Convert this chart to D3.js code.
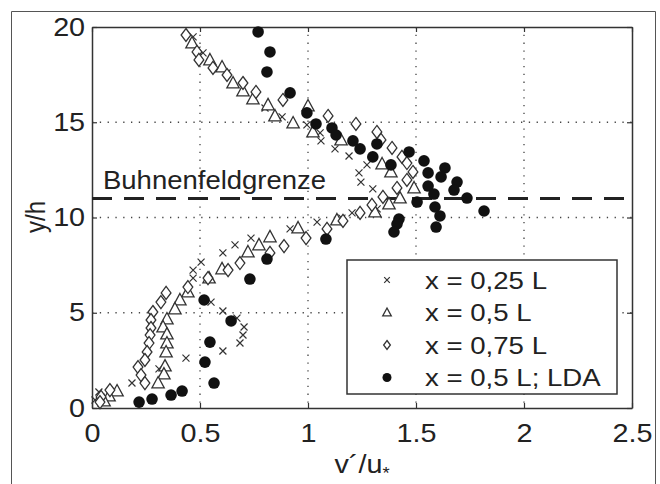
<!DOCTYPE html>
<html lang="de">
<head>
    <meta charset="utf-8">
    <title>Buhnenfeld</title>
    <script src="https://d3js.org/d3.v7.min.js" charset="utf-8"></script>
    <style type="text/css">
        body { margin: 0; background: #fff; }
        .textset { font-family: 'Liberation Sans', Arial, sans-serif; fill: #222; }
    </style>
</head>
<body>
    <script type="text/javascript">

        // x = 0,25 L  (crosses)
        var crossV = [0.468, 0.486, 0.514, 0.625, 0.801, 0.88, 0.995, 1.056, 1.06, 1.125, 1.19, 1.273, 1.236, 1.245, 1.30, 1.32,
            1.204, 1.157, 1.042, 0.917, 0.736, 0.662, 0.606, 0.505, 0.468, 0.468, 0.551, 0.606, 0.671, 0.704, 0.699, 0.685,
            0.606, 0.435, 0.31, 0.185, 0.032, 0.014];
        var crossY = [19.48, 18.79, 18.64, 17.59, 15.75, 15.28, 14.86, 14.44, 14.02, 13.60, 13.23, 12.76, 12.34, 11.86, 11.50, 10.45,
            10.24, 9.97, 9.76, 9.40, 8.92, 8.56, 8.14, 7.66, 7.24, 6.82, 5.56, 5.09, 4.72, 4.25, 3.83, 3.41,
            2.99, 2.62, 2.05, 1.31, 0.84, 0.42];

        // x = 0,5 L  (triangles)
        var triV = [0.463, 0.546, 0.602, 0.653, 0.699, 0.745, 0.815, 0.847, 0.931, 1.0, 1.023, 1.153, 1.343, 1.384, 1.491,
            1.426, 1.375, 1.31, 1.134, 0.954, 0.824, 0.773, 0.722, 0.602, 0.542, 0.444, 0.407, 0.384, 0.347, 0.329, 0.347,
            0.347, 0.343, 0.338, 0.333, 0.306, 0.116, 0.079, 0.056];
        var triY = [19.16, 18.27, 17.90, 17.06, 16.64, 16.22, 15.91, 15.33, 14.96, 15.85, 14.49, 14.07, 12.81, 12.39, 11.55,
            11.02, 10.71, 10.29, 9.87, 9.45, 8.98, 8.56, 8.19, 7.30, 6.82, 6.09, 5.67, 5.20, 4.67, 4.25, 3.88,
            3.41, 2.94, 2.20, 1.78, 1.31, 0.89, 0.63, 0.37];

        // x = 0,75 L  (diamonds)
        var diaV = [0.435, 0.486, 0.495, 0.56, 0.625, 0.699, 0.759, 0.884, 1.093, 1.222, 1.319, 1.338, 1.389, 1.435, 1.458,
            1.486, 1.458, 1.412, 1.347, 1.296, 1.241, 1.162, 1.088, 0.991, 0.889, 0.824, 0.685, 0.63, 0.537, 0.444, 0.343,
            0.319, 0.282, 0.273, 0.273, 0.269, 0.264, 0.255, 0.245, 0.213, 0.227, 0.245, 0.083, 0.042, 0.037];
        var diaY = [19.58, 18.69, 18.27, 17.85, 17.48, 17.06, 16.59, 16.17, 15.33, 14.91, 14.49, 14.07, 13.65, 13.18, 12.86,
            12.39, 11.97, 11.55, 11.08, 10.66, 10.24, 9.82, 9.40, 8.92, 8.50, 8.14, 7.61, 7.24, 6.82, 6.35, 6.04,
            5.56, 5.04, 4.62, 4.20, 3.83, 3.41, 2.94, 2.52, 2.15, 1.73, 1.31, 0.94, 0.58, 0.31];

        // x = 0,5 L; LDA  (filled circles)
        var ldaV = [0.769, 0.824, 0.81, 0.917, 0.995, 1.037, 1.111, 1.13, 1.208, 1.241, 1.319, 1.30, 1.384, 1.468, 1.537,
            1.556, 1.634, 1.616, 1.69, 1.676, 1.556, 1.583, 1.736, 1.815, 1.505, 1.588, 1.611, 1.593, 1.421, 1.412, 1.398,
            1.083, 0.81, 0.731, 0.519, 0.644, 0.546, 0.523, 0.565, 0.417, 0.366, 0.278, 0.218];
        var ldaY = [19.74, 18.69, 17.64, 16.54, 15.49, 14.91, 14.70, 14.33, 14.02, 13.60, 13.86, 13.18, 12.76, 13.44, 12.97,
            12.34, 12.60, 12.13, 11.86, 11.44, 11.65, 11.23, 11.02, 10.34, 10.81, 10.55, 10.08, 9.50, 9.92, 9.66, 9.24,
            8.87, 7.82, 6.77, 5.67, 4.57, 3.46, 2.41, 1.31, 0.89, 0.68, 0.47, 0.31];

        var xTicks = [0, 0.5, 1, 1.5, 2, 2.5];
        var yTicks = [0, 5, 10, 15, 20];
        var legendLabels = ["x = 0,25 L", "x = 0,5 L", "x = 0,75 L", "x = 0,5 L; LDA"];
        var boundaryY = 11;

        var margin = { top: 27, right: 28, bottom: 76, left: 92 },
            W = 660, H = 484,
            width = W - margin.left - margin.right,
            height = H - margin.top - margin.bottom,
            stretch = "scale(1.15,1)"; // the original lettering is a bit wide

        var root = d3.select("body").append("svg")
            .attr("width", W)
            .attr("height", H);

        // outer frame (bottom edge is cut off in the original)
        root.append("path")
            .attr("d", "M11.5," + H + "V11.5H655.5V" + H)
            .attr("fill", "none")
            .attr("stroke", "#555")
            .attr("stroke-width", 1);

        var svg = root.append("g")
            .attr("transform", "translate(" + margin.left + "," + margin.top + ")");

        var x = d3.scaleLinear().domain([0, 2.5]).range([0, width]);
        var y = d3.scaleLinear().domain([0, 20]).range([height, 0]);

        // dotted grid
        svg.append("g").selectAll("line")
            .data(xTicks.slice(1, -1))
            .enter().append("line")
            .attr("x1", function (d) { return x(d); })
            .attr("x2", function (d) { return x(d); })
            .attr("y1", 0).attr("y2", height)
            .attr("stroke", "#444").attr("stroke-width", 1.3)
            .attr("stroke-dasharray", "1.3,6.5");
        svg.append("g").selectAll("line")
            .data(yTicks.slice(1, -1))
            .enter().append("line")
            .attr("y1", function (d) { return y(d); })
            .attr("y2", function (d) { return y(d); })
            .attr("x1", 0).attr("x2", width)
            .attr("stroke", "#444").attr("stroke-width", 1.3)
            .attr("stroke-dasharray", "1.3,6.5");

        // axes, ticks inward on all four sides
        var ax = function (g) {
            g.selectAll("path").attr("stroke", "#333").attr("stroke-width", 1.5);
            g.selectAll("line").attr("stroke", "#333").attr("stroke-width", 1.2);
        };
        svg.append("g")
            .attr("transform", "translate(0," + height + ")")
            .call(d3.axisBottom(x).tickValues(xTicks).tickSize(-5).tickSizeOuter(0).tickPadding(16).tickFormat(d3.format("")))
            .call(ax)
            .selectAll("text").attr("class", "textset").attr("font-size", "25px").attr("transform", stretch);
        svg.append("g")
            .call(d3.axisLeft(y).tickValues(yTicks).tickSize(-5).tickSizeOuter(0).tickPadding(6))
            .call(ax)
            .selectAll("text").attr("class", "textset").attr("font-size", "25px").attr("transform", stretch);
        svg.append("g")
            .call(d3.axisTop(x).tickValues(xTicks).tickSize(-5).tickSizeOuter(0).tickFormat(""))
            .call(ax);
        svg.append("g")
            .attr("transform", "translate(" + width + ",0)")
            .call(d3.axisRight(y).tickValues(yTicks).tickSize(-5).tickSizeOuter(0).tickFormat(""))
            .call(ax);

        // Buhnenfeldgrenze
        svg.append("line")
            .attr("x1", 0).attr("x2", width)
            .attr("y1", y(boundaryY)).attr("y2", y(boundaryY))
            .attr("stroke", "#222").attr("stroke-width", 3)
            .attr("stroke-dasharray", "20,12");
        svg.append("text")
            .attr("class", "textset")
            .attr("transform", "translate(11," + (y(boundaryY) - 9.5) + ") scale(1.1,1)")
            .attr("font-size", "25px")
            .text("Buhnenfeldgrenze");

        // markers
        var stroke = "#333";
        function drawCross(g, s) {
            g.append("path").attr("d", "M" + (-s) + "," + (-s) + "L" + s + "," + s + "M" + (-s) + "," + s + "L" + s + "," + (-s))
                .attr("stroke", stroke).attr("stroke-width", 1.2).attr("fill", "none");
        }
        function drawTri(g, s) {
            g.append("path").attr("d", "M0," + (-s) + "L" + (s * 0.95) + "," + (s * 0.75) + "L" + (-s * 0.95) + "," + (s * 0.75) + "Z")
                .attr("stroke", stroke).attr("stroke-width", 1.3).attr("fill", "#fff");
        }
        function drawDia(g, s) {
            g.append("path").attr("d", "M0," + (-s) + "L" + (s * 0.75) + ",0L0," + s + "L" + (-s * 0.75) + ",0Z")
                .attr("stroke", stroke).attr("stroke-width", 1.3).attr("fill", "#fff");
        }
        function drawDot(g, s) {
            g.append("circle").attr("r", s).attr("fill", "#111");
        }

        var series = [
            { v: crossV, yy: crossY, draw: drawCross, size: 3.5, lsize: 2.8 },
            { v: triV, yy: triY, draw: drawTri, size: 6.5, lsize: 4.5 },
            { v: diaV, yy: diaY, draw: drawDia, size: 6.5, lsize: 4.5 },
            { v: ldaV, yy: ldaY, draw: drawDot, size: 5.8, lsize: 4.5 }
        ];

        series.forEach(function (s) {
            s.v.forEach(function (vv, i) {
                var g = svg.append("g")
                    .attr("transform", "translate(" + x(vv) + "," + y(s.yy[i]) + ")");
                s.draw(g, s.size);
            });
        });

        // legend
        var lg = svg.append("g").attr("transform", "translate(" + (347 - margin.left) + "," + (260 - margin.top) + ")");
        lg.append("rect")
            .attr("width", 270).attr("height", 134)
            .attr("fill", "#fff").attr("stroke", "#333").attr("stroke-width", 1.5);
        legendLabels.forEach(function (t, i) {
            var row = lg.append("g").attr("transform", "translate(0," + (20 + i * 32.5) + ")");
            series[i].draw(row.append("g").attr("transform", "translate(40,0)"), series[i].lsize);
            row.append("text")
                .attr("class", "textset")
                .attr("transform", "translate(78,8.5) " + stretch)
                .attr("font-size", "24px")
                .text(t);
        });

        // axis titles
        var xl = root.append("text")
            .attr("class", "textset")
            .attr("text-anchor", "middle")
            .attr("transform", "translate(362,473) " + stretch)
            .attr("font-size", "25px");
        xl.append("tspan").text("v´/u");
        xl.append("tspan").attr("dy", 6).attr("font-size", "16px").text("*");

        root.append("text")
            .attr("class", "textset")
            .attr("text-anchor", "middle")
            .attr("transform", "translate(45,217) rotate(-90) scale(1,1.15)")
            .attr("font-size", "24px")
            .text("y/h");

    </script>
</body>
</html>
